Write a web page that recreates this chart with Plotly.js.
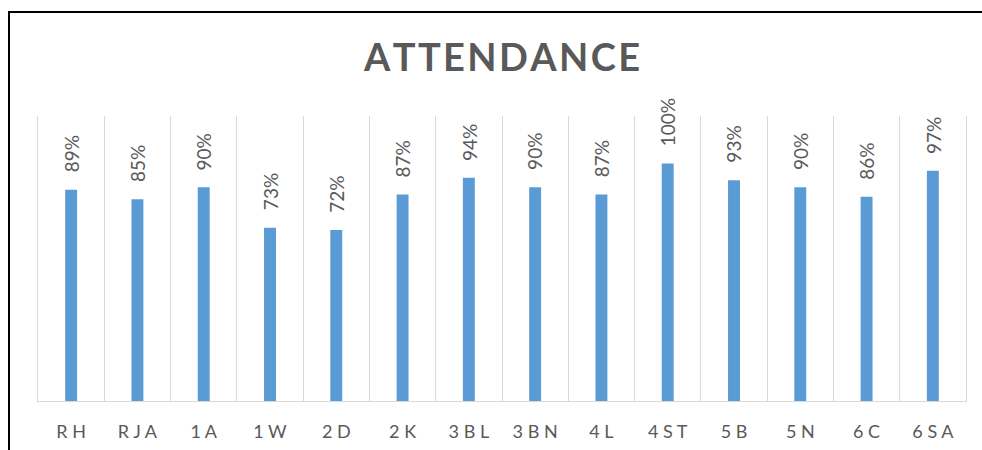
<!DOCTYPE html>
<html>
<head>
<meta charset="utf-8">
<script src="https://cdn.plot.ly/plotly-3.0.1.min.js"></script>
<style>
  html, body { margin: 0; padding: 0; background: #fff; overflow: hidden; }
  #wrap { position: relative; width: 982px; height: 450px; }
  #chart { width: 982px; height: 450px; }
  #frame { position: absolute; left: 8px; top: 11px; width: 1100px; height: 600px;
           border-left: 2px solid #000; border-top: 2px solid #000; pointer-events: none; }
</style>
</head>
<body>
<div id="wrap">
  <div id="chart"></div>
  <div id="frame"></div>
</div>
<script>
// ---- data ----
const categories = ["RH", "RJA", "1A", "1W", "2D", "2K", "3BL", "3BN", "4L", "4ST", "5B", "5N", "6C", "6SA"];
const tickLabels = ["R H", "R J A", "1 A", "1 W", "2 D", "2 K", "3 B L", "3 B N", "4 L", "4 S T", "5 B", "5 N", "6 C", "6 S A"];
const attendance = [0.89, 0.85, 0.90, 0.73, 0.72, 0.87, 0.94, 0.90, 0.87, 1.00, 0.93, 0.90, 0.86, 0.97];
const chartTitle = "ATTENDANCE";

const FONT = "Lato, Open Sans, sans-serif";
const GREY = "#595959";

const trace = {
  type: "bar",
  x: categories,
  y: attendance,
  marker: { color: "#5B9BD5", line: { width: 0 } },
  hoverinfo: "none"
};

const annotations = categories.map((c, i) => ({
  x: c,
  y: attendance[i],
  xref: "x",
  yref: "y",
  text: Math.round(attendance[i] * 100) + "%",
  showarrow: false,
  textangle: -90,
  xanchor: "center",
  yanchor: "bottom",
  yshift: 15,
  font: { family: FONT, size: 19, color: GREY }
}));

const layout = {
  width: 982,
  height: 450,
  margin: { l: 38, r: 16, t: 116, b: 49, pad: 0 },
  paper_bgcolor: "#fff",
  plot_bgcolor: "#fff",
  showlegend: false,
  bargap: 0.82,
  title: {
    text: "<b>" + chartTitle.split("").join("\u200A") + "</b>",
    font: { family: FONT, size: 38, color: GREY },
    x: 0.5, xref: "paper", xanchor: "center",
    y: 1 - 58 / 450, yref: "container", yanchor: "middle"
  },
  xaxis: {
    type: "category",
    tickvals: categories,
    ticktext: tickLabels,
    tickson: "boundaries",
    ticks: "",
    showgrid: true,
    gridcolor: "#D9D9D9",
    gridwidth: 1,
    showline: true,
    linecolor: "#D9D9D9",
    linewidth: 1,
    ticklabelstandoff: 14,
    tickfont: { family: FONT, size: 18, color: GREY },
    fixedrange: true
  },
  yaxis: {
    range: [0, 1.2],
    showgrid: false,
    zeroline: false,
    showticklabels: false,
    ticks: "",
    showline: true,
    mirror: true,
    linecolor: "#D9D9D9",
    linewidth: 1,
    fixedrange: true
  },
  annotations: annotations
};

Plotly.newPlot("chart", [trace], layout, { displayModeBar: false, staticPlot: true });
</script>
</body>
</html>
